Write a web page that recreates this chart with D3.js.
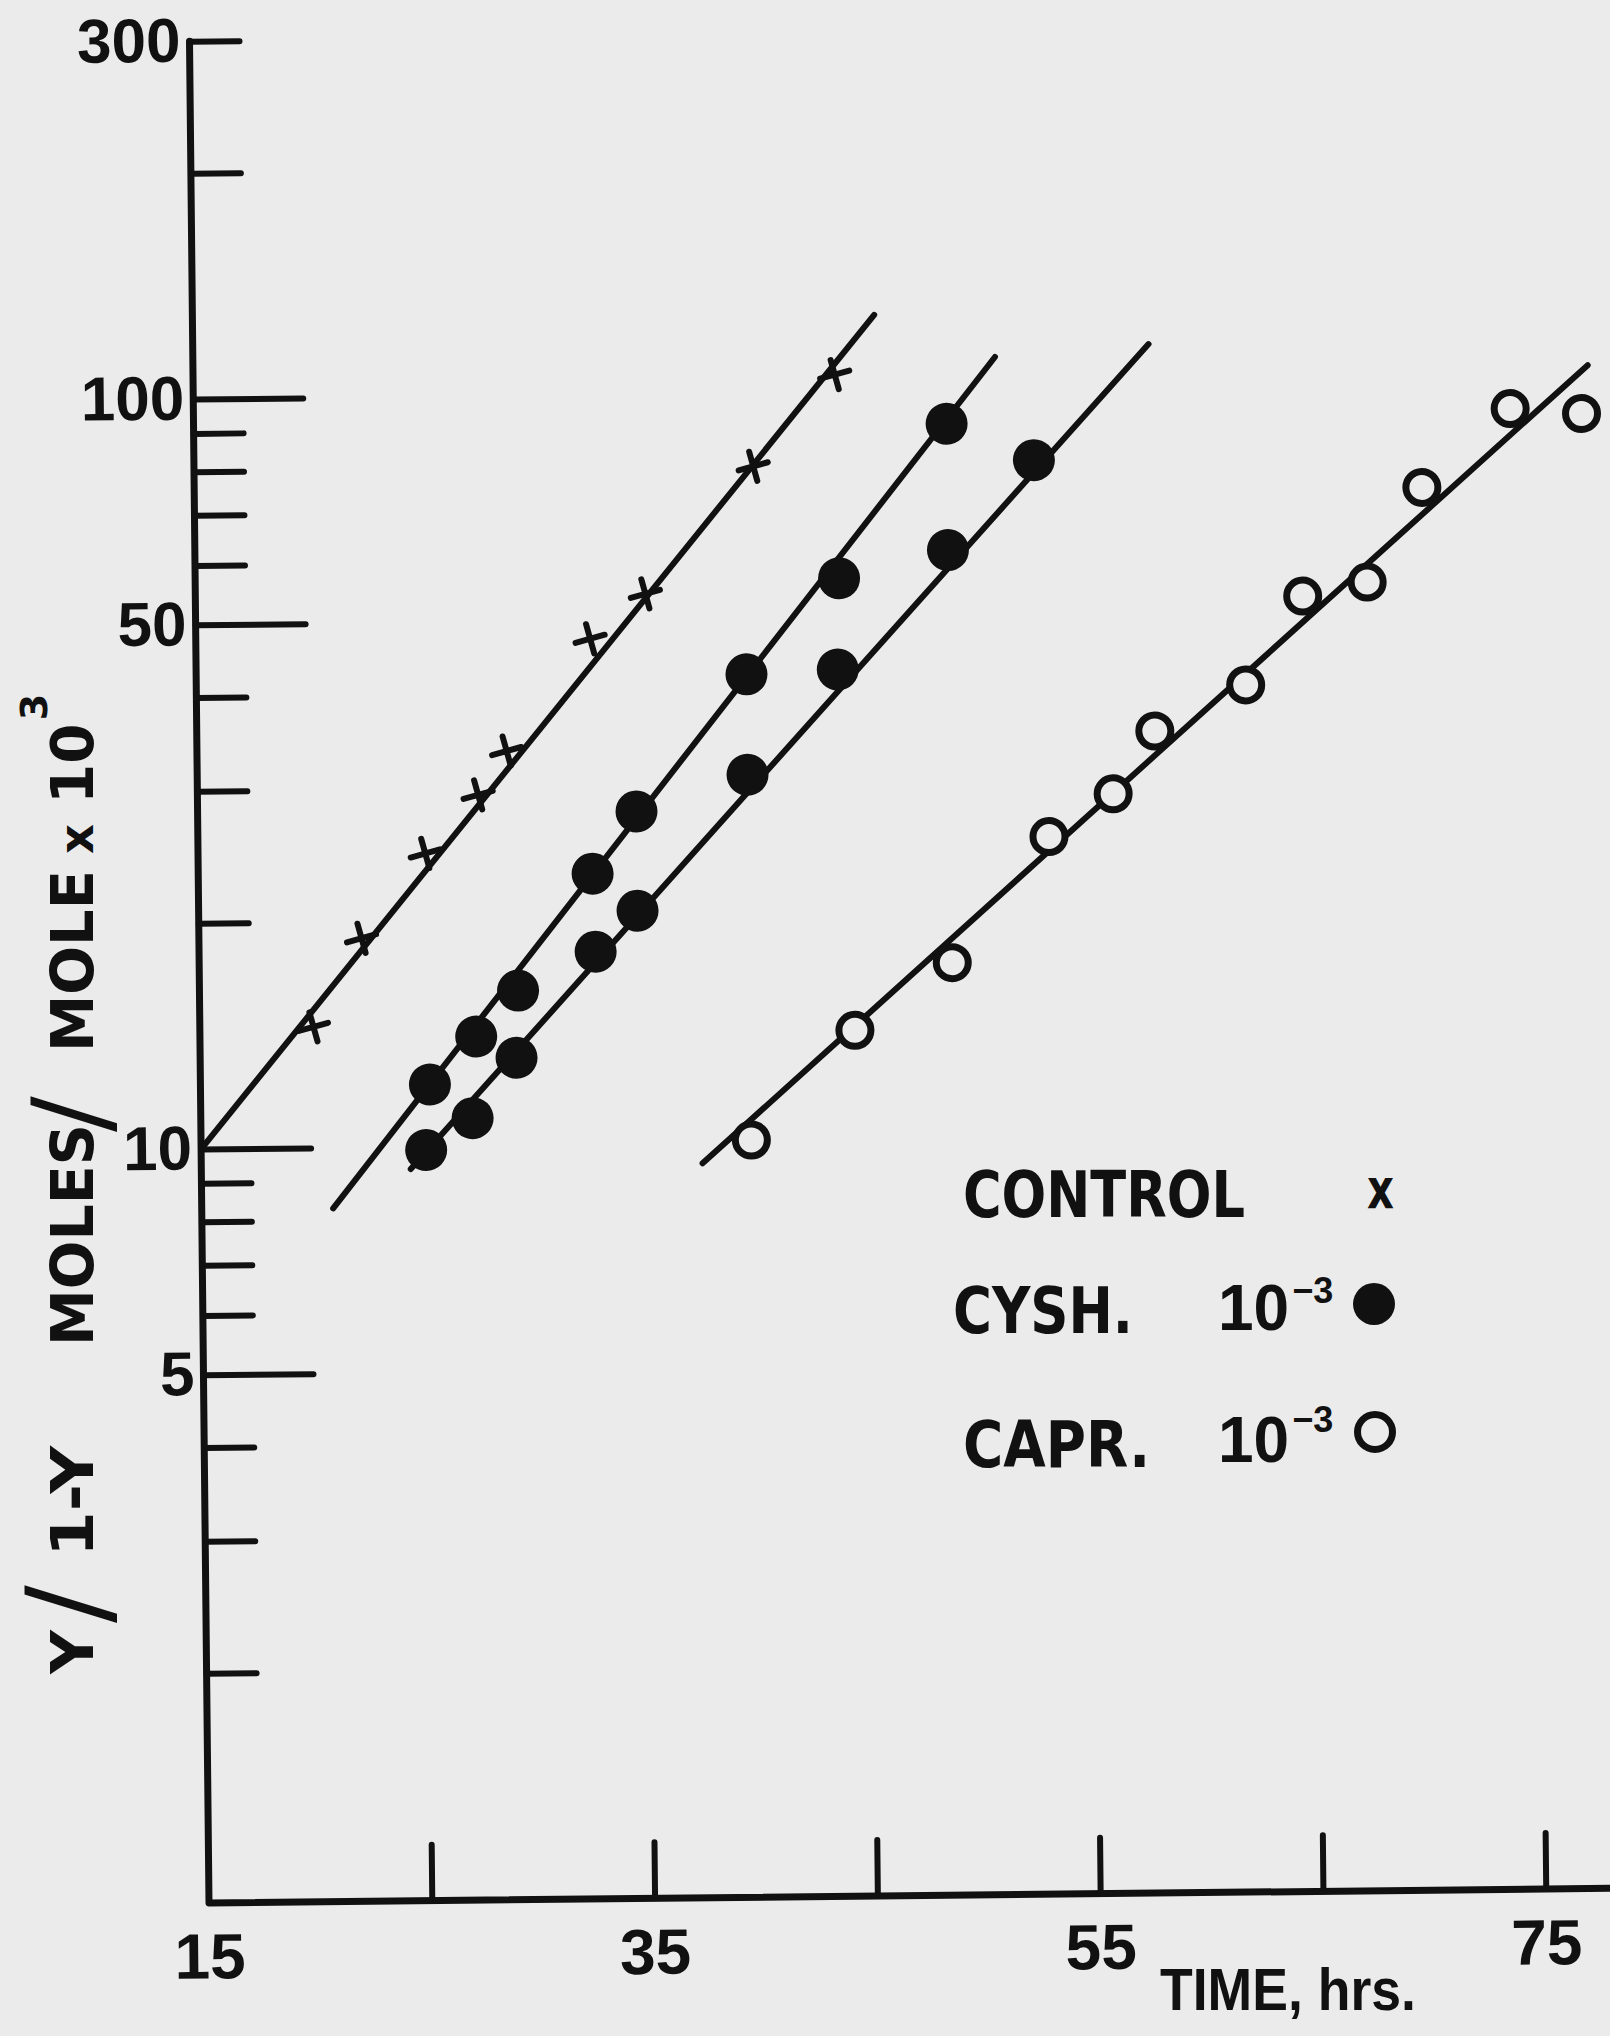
<!DOCTYPE html>
<html>
<head>
<meta charset="utf-8">
<script src="https://cdn.jsdelivr.net/npm/d3@7"></script>
<style>
  html, body { margin: 0; padding: 0; background: #ebebeb; }
  svg { display: block; }
</style>
</head>
<body>
<script>
// values: [time in hrs, Y/1-Y in moles/mole x 10^3]
var controlPts = [[20.1,14.5],[22.3,19.0],[25.2,24.6],[27.6,29.4],[28.9,33.6],[32.7,47.3],[35.2,54.2],[40.1,79.9],[43.8,105.6]];
var cyshUpperPts = [[25.3,12.1],[27.4,14.0],[29.3,16.1],[32.7,23.0],[34.7,27.8],[39.7,42.2],[43.9,56.5],[48.8,90.5]];
var cyshLowerPts = [[25.1,9.9],[27.2,10.9],[29.2,13.1],[32.8,18.1],[34.7,20.5],[39.7,31.0],[43.8,42.7],[48.8,61.4],[52.7,80.7]];
var caprPts = [[39.7,10.1],[44.4,14.1],[48.8,17.3],[53.2,25.4],[56.1,28.9],[58.0,35.0],[62.1,40.2],[64.7,52.7],[67.6,54.9],[70.1,73.3],[74.1,93.1],[77.3,91.5]];

// hand drawn fit lines, start and end
var controlFit = [[15,10.0],[45.6,126.7]];
var cyshUpperFit = [[20.9,8.3],[51.0,110.9]];
var cyshLowerFit = [[24.4,9.34],[57.9,114.8]];
var caprFit = [[37.5,9.42],[77.6,106.1]];

// axes
var xTicks = [25,35,45,55,65,75];
var xLabels = [15,35,55,75];
var yMajor = [5,10,50,100];
var yMinor = [2,3,4,6,7,8,9,20,30,40,60,70,80,90,200,300];
var yLabels = [5,10,50,100,300];

var W = 1610, H = 2036;
var ink = "#111";
var paper = "#ebebeb";
var fontNum = "'Liberation Sans Narrow', 'Liberation Sans', Arial, sans-serif";
var fontLet = "'DejaVu Sans', Verdana, sans-serif";

var svg = d3.select("body").append("svg").attr("width", W).attr("height", H);
svg.append("rect").attr("width", W).attr("height", H).attr("fill", paper);

// the original sheet sits a little crooked, so the plot frame is turned slightly
var chart = svg.append("g").attr("transform", "translate(209,1903) rotate(-0.6)");

var x = d3.scaleLinear().domain([15, 78]).range([0, 63 * 22.28]);
var decade = 750;
var y = d3.scaleLog().domain([1, 300]).range([-4, -4 - decade * Math.log10(300)]);

function inkAxis(g) {
  g.selectAll("line").attr("stroke", ink).attr("stroke-width", 6).attr("stroke-linecap", "round");
  g.select(".domain").remove();
}

// x ticks point up into the plot
chart.append("g").attr("class", "x axis")
  .call(d3.axisBottom(x).tickValues(xTicks).tickSizeInner(-56).tickSizeOuter(0).tickFormat(""))
  .call(inkAxis);
var xl = chart.append("g").attr("class", "x labels")
  .call(d3.axisBottom(x).tickValues(xLabels).tickSize(0).tickPadding(30).tickFormat(d3.format("d")));
xl.select(".domain").remove();
xl.selectAll("text").attr("fill", ink).attr("font-family", fontNum).attr("font-weight", "bold").attr("font-size", 64);

// y ticks go right, numbers on the left
chart.append("g").attr("class", "y minor")
  .call(d3.axisLeft(y).tickValues(yMinor).tickSizeInner(-50).tickSizeOuter(0).tickFormat(""))
  .call(inkAxis);
chart.append("g").attr("class", "y major")
  .call(d3.axisLeft(y).tickValues(yMajor).tickSizeInner(-110).tickSizeOuter(0).tickFormat(""))
  .call(inkAxis);
var yl = chart.append("g").attr("class", "y labels")
  .call(d3.axisLeft(y).tickValues(yLabels).tickSize(0).tickPadding(9).tickFormat(d3.format("d")));
yl.select(".domain").remove();
yl.selectAll("text").attr("fill", ink).attr("font-family", fontNum).attr("font-weight", "bold").attr("font-size", 62);

// the two axis lines as one stroke
chart.append("path")
  .attr("d", "M" + x(15) + "," + y(300) + "V0H" + x(78))
  .attr("fill", "none").attr("stroke", ink).attr("stroke-width", 7)
  .attr("stroke-linejoin", "round").attr("stroke-linecap", "round");

// fit lines
var line = d3.line().x(function (d) { return x(d[0]); }).y(function (d) { return y(d[1]); });
[controlFit, cyshUpperFit, cyshLowerFit, caprFit].forEach(function (f) {
  chart.append("path").attr("d", line(f))
    .attr("fill", "none").attr("stroke", ink).attr("stroke-width", 6).attr("stroke-linecap", "round");
});

// markers
var cross = d3.symbol().type(d3.symbolPlus).size(300);
chart.append("g").selectAll("path").data(controlPts).join("path")
  .attr("d", cross)
  .attr("transform", function (d) { return "translate(" + x(d[0]) + "," + y(d[1]) + ") rotate(-15)"; })
  .attr("fill", "none").attr("stroke", ink).attr("stroke-width", 6).attr("stroke-linecap", "round");

chart.append("g").selectAll("circle").data(cyshUpperPts.concat(cyshLowerPts)).join("circle")
  .attr("cx", function (d) { return x(d[0]); })
  .attr("cy", function (d) { return y(d[1]); })
  .attr("r", 21).attr("fill", ink);

chart.append("g").selectAll("circle").data(caprPts).join("circle")
  .attr("cx", function (d) { return x(d[0]); })
  .attr("cy", function (d) { return y(d[1]); })
  .attr("r", 16).attr("fill", paper).attr("stroke", ink).attr("stroke-width", 7);

// text helpers
function txt(g, s, px, py, size, family, len, weight) {
  var t = g.append("text").attr("x", px).attr("y", py).text(s)
    .attr("fill", ink).attr("font-family", family).attr("font-size", size)
    .attr("font-weight", weight || "bold");
  if (len) t.attr("textLength", len).attr("lengthAdjust", "spacingAndGlyphs");
  return t;
}
// number with a raised exponent, kept in one text element
function power(g, base, exp, px, py, size, family, expSize, rise) {
  var t = g.append("text").attr("x", px).attr("y", py)
    .attr("fill", ink).attr("font-family", family).attr("font-weight", "bold").attr("font-size", size);
  t.append("tspan").text(base);
  t.append("tspan").text(exp).attr("dx", 3).attr("dy", -rise).attr("font-size", expSize);
  return t;
}

// x title
txt(svg, "TIME, hrs.", 1160, 2010, 60, fontNum, 256);

// y title, reads bottom to top
var yt = svg.append("g").attr("transform", "translate(93,1680) rotate(-90)");
txt(yt, "Y", 6, 0, 59, fontLet, 44);
txt(yt, "/", 57, 14, 112, fontLet, null, "normal");
txt(yt, "1-Y", 123, 0, 59, fontLet, 111);
txt(yt, "MOLES", 334, 0, 59, fontLet, 222);
txt(yt, "/", 548, 14, 106, fontLet, null, "normal");
txt(yt, "MOLE", 628, 0, 59, fontLet, 182);
txt(yt, "x", 826, 0, 48, fontLet, 30);
power(yt, "10", "3", 876, 0, 58, fontLet, 38, 46);

// legend
var lg = svg.append("g").attr("class", "legend");
txt(lg, "CONTROL", 963, 1217, 64, fontLet, 282);
txt(lg, "x", 1367, 1208, 55, fontLet, 27);
txt(lg, "CYSH.", 953, 1333, 64, fontLet, 180);
power(lg, "10", "\u22123", 1218, 1330, 64, fontNum, 36, 27);
lg.append("circle").attr("cx", 1374).attr("cy", 1304).attr("r", 21).attr("fill", ink);
txt(lg, "CAPR.", 963, 1467, 64, fontLet, 187);
power(lg, "10", "\u22123", 1218, 1462, 64, fontNum, 36, 30);
lg.append("circle").attr("cx", 1375).attr("cy", 1432).attr("r", 17.5)
  .attr("fill", paper).attr("stroke", ink).attr("stroke-width", 7);
</script>
</body>
</html>
